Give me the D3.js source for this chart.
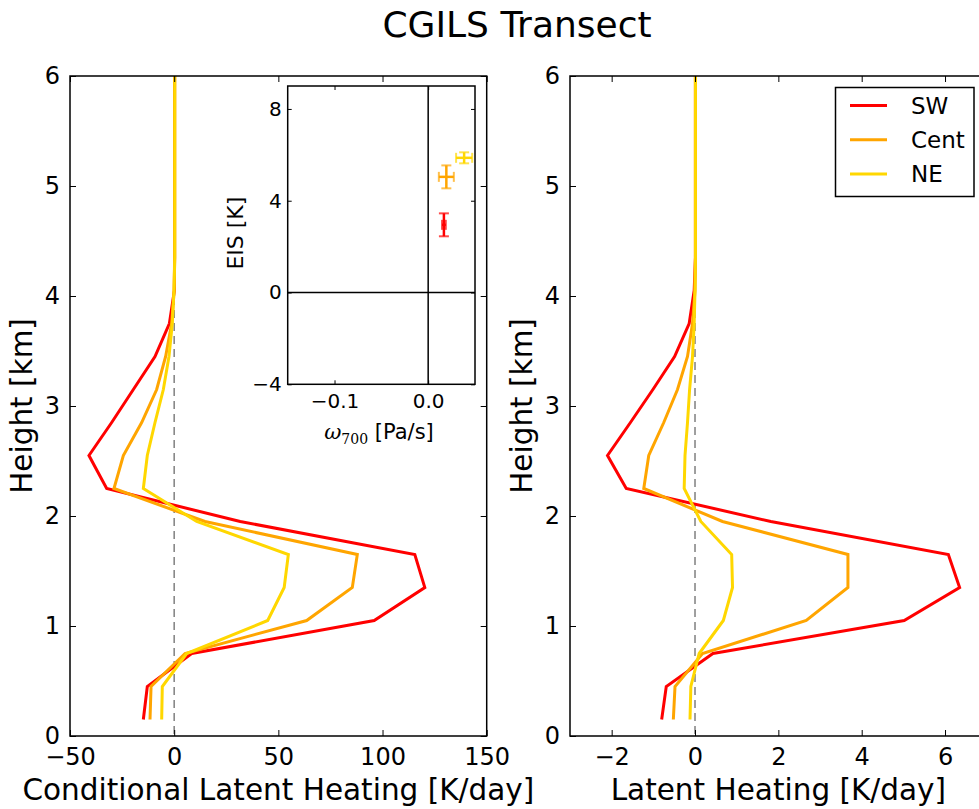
<!DOCTYPE html>
<html><head><meta charset="utf-8">
<script src="https://cdn.jsdelivr.net/npm/d3@7"></script>
<style>body{margin:0;background:#fff}svg{display:block}text{font-family:"DejaVu Sans",sans-serif}</style>
</head><body><svg id="c" width="979" height="809"></svg>
<script>
const heights = [0.15,0.45,0.75,1.05,1.35,1.65,1.95,2.25,2.55,2.85,3.15,3.45,3.75,4.05,4.35,4.65,4.95,5.25,5.55,5.85,6.15];
const seriesNames = ["SW","Cent","NE"];
const seriesColors = ["#ff0000","#ffa500","#ffd700"];
// Conditional latent heating [K/day]
const condSW   = [-14.8,-12.9,8.4,96,120.3,115.5,31.7,-32.4,-40.9,-30,-19.6,-9.2,-2.3,0.1,0.2,0.2,0.2,0.2,0.2,0.2,0.2];
const condCent = [-11.6,-11.1,5.2,63.6,85.5,87.9,14.8,-28.9,-24.4,-15.6,-8.4,-4.1,-1.2,0.0,0.2,0.2,0.2,0.2,0.2,0.2,0.2];
const condNE   = [-6.0,-5.7,6.0,44.9,52.8,54.8,10.8,-14.8,-12.9,-9.2,-5.2,-2.5,-0.9,-0.1,0.3,0.3,0.3,0.3,0.3,0.3,0.3];
// Latent heating [K/day]
const lhSW   = [-0.80,-0.69,0.43,5.02,6.35,6.08,1.82,-1.65,-2.10,-1.55,-1.01,-0.49,-0.14,-0.02,0.01,0.01,0.01,0.01,0.01,0.01,0.01];
const lhCent = [-0.52,-0.48,0.18,2.67,3.67,3.67,0.66,-1.23,-1.11,-0.75,-0.42,-0.18,-0.06,0.0,0.01,0.01,0.01,0.01,0.01,0.01,0.01];
const lhNE   = [-0.12,-0.10,0.10,0.68,0.90,0.88,0.14,-0.26,-0.24,-0.18,-0.13,-0.06,-0.02,0.0,0.01,0.01,0.01,0.01,0.01,0.01,0.01];
// Inset: omega700 [Pa/s], EIS [K] with errors
const omega = [0.0168,0.0194,0.0384];
const omegaErr = [0.002,0.008,0.0086];
const eis = [2.95,5.04,5.87];
const eisErr = [0.5,0.5,0.24];

const leftTicksX = [-50,0,50,100,150];
const rightTicksX = [-2,0,2,4,6];
const heightTicks = [0,1,2,3,4,5,6];
const insetTicksX = [-0.1,0.0];
const insetTicksY = [-4,0,4,8];

const svg = d3.select("#c");
const fmt = v => (v<0? "\u2212":"") + Math.abs(v);

svg.append("text").attr("x",517).attr("y",37).attr("text-anchor","middle")
  .style("font-size","36px").text("CGILS Transect");

function panel(x0, x1, xdom, xticks, series, xlabel, id, tickFmt){
  const y0=76, y1=736;
  const x = d3.scaleLinear().domain(xdom).range([x0,x1]);
  const y = d3.scaleLinear().domain([0,6]).range([y1,y0]);
  const g = svg.append("g");
  g.append("clipPath").attr("id",id).append("rect").attr("x",x0).attr("y",y0).attr("width",x1-x0).attr("height",y1-y0);
  g.append("line").attr("x1",x(0)).attr("x2",x(0)).attr("y1",y0).attr("y2",y1)
    .attr("stroke","#808080").attr("stroke-width",1.5).attr("stroke-dasharray","8,5");
  const line = d3.line().x(d=>x(d[0])).y(d=>y(d[1]));
  const lg = g.append("g").attr("clip-path",`url(#${id})`);
  series.forEach((s,i)=>{
    lg.append("path").datum(s.map((v,k)=>[v,heights[k]])).attr("d",line)
      .attr("fill","none").attr("stroke",seriesColors[i]).attr("stroke-width",3).attr("stroke-linejoin","miter");
  });
  g.append("rect").attr("x",x0).attr("y",y0).attr("width",x1-x0).attr("height",y1-y0)
    .attr("fill","none").attr("stroke","#000").attr("stroke-width",1.5);
  const axB = d3.axisBottom(x).tickValues(xticks).tickSize(-6).tickPadding(12).tickFormat(tickFmt);
  const axT = d3.axisTop(x).tickValues(xticks).tickSize(-6).tickFormat("");
  const axL = d3.axisLeft(y).tickValues(heightTicks).tickSize(-6).tickPadding(10).tickFormat(d3.format("d"));
  const axR = d3.axisRight(y).tickValues(heightTicks).tickSize(-6).tickFormat("");
  [[axB,`translate(0,${y1})`],[axT,`translate(0,${y0})`],[axL,`translate(${x0},0)`],[axR,`translate(${x1},0)`]].forEach(([a,t])=>{
    const ag = g.append("g").attr("transform",t).call(a);
    ag.select(".domain").remove();
    ag.selectAll("line").attr("stroke","#000").attr("stroke-width",1);
    ag.selectAll("text").style("font-size","24px").style("font-family","DejaVu Sans").attr("fill","#000");
  });
  g.append("text").attr("x",(x0+x1)/2).attr("y",800).attr("text-anchor","middle").style("font-size","29.5px").text(xlabel);
  g.append("text").attr("transform",`translate(${x0-38},${(y0+y1)/2}) rotate(-90)`).attr("text-anchor","middle")
    .style("font-size","29.5px").text("Height [km]");
  return {x,y,g};
}

panel(70,486.7,[-50,150],leftTicksX,[condSW,condCent,condNE],"Conditional Latent Heating [K/day]","clipL",fmt);
panel(570,986.7,[-3,7],rightTicksX,[lhSW,lhCent,lhNE],"Latent Heating [K/day]","clipR",fmt);

// legend
const lgd = svg.append("g");
lgd.append("rect").attr("x",835.5).attr("y",87.5).attr("width",138.5).attr("height",109).attr("fill","#fff").attr("stroke","#000").attr("stroke-width",1.5);
seriesNames.forEach((n,i)=>{
  const yy = 105.5 + i*34.3;
  lgd.append("line").attr("x1",850).attr("x2",887).attr("y1",yy).attr("y2",yy).attr("stroke",seriesColors[i]).attr("stroke-width",3);
  lgd.append("text").attr("x",911).attr("y",yy+8).style("font-size","23px").text(n);
});

// inset
const ix0=287.7, ix1=475, iy0=86, iy1=384.3;
const ix = d3.scaleLinear().domain([-0.15,0.05]).range([ix0,ix1]);
const iy = d3.scaleLinear().domain([-4,9]).range([iy1,iy0]);
const ig = svg.append("g");
ig.append("rect").attr("x",ix0).attr("y",iy0).attr("width",ix1-ix0).attr("height",iy1-iy0).attr("fill","#fff");
ig.append("line").attr("x1",ix(0)).attr("x2",ix(0)).attr("y1",iy0).attr("y2",iy1).attr("stroke","#000").attr("stroke-width",1.5);
ig.append("line").attr("x1",ix0).attr("x2",ix1).attr("y1",iy(0)).attr("y2",iy(0)).attr("stroke","#000").attr("stroke-width",1.5);
omega.forEach((o,i)=>{
  const c = seriesColors[i], cx=ix(o), cy=iy(eis[i]);
  const e = ig.append("g").attr("stroke",c).attr("stroke-width",2.5);
  e.append("line").attr("x1",ix(o-omegaErr[i])).attr("x2",ix(o+omegaErr[i])).attr("y1",cy).attr("y2",cy);
  e.append("line").attr("x1",cx).attr("x2",cx).attr("y1",iy(eis[i]-eisErr[i])).attr("y2",iy(eis[i]+eisErr[i]));
  const cap = 5;
  [eis[i]-eisErr[i],eis[i]+eisErr[i]].forEach(v=>e.append("line").attr("x1",cx-cap).attr("x2",cx+cap).attr("y1",iy(v)).attr("y2",iy(v)).attr("stroke-width",2).attr("stroke-opacity",0.7));
  [o-omegaErr[i],o+omegaErr[i]].forEach(v=>e.append("line").attr("x1",ix(v)).attr("x2",ix(v)).attr("y1",cy-cap).attr("y2",cy+cap).attr("stroke-width",2).attr("stroke-opacity",0.7));
});
ig.append("rect").attr("x",ix0).attr("y",iy0).attr("width",ix1-ix0).attr("height",iy1-iy0).attr("fill","none").attr("stroke","#000").attr("stroke-width",1.5);
const iaxes = [
  [d3.axisBottom(ix).tickValues(insetTicksX).tickSize(-4).tickPadding(10).tickFormat(v=>(v<0?"\u2212":"")+Math.abs(v).toFixed(1)),`translate(0,${iy1})`],
  [d3.axisTop(ix).tickValues(insetTicksX).tickSize(-4).tickFormat(""),`translate(0,${iy0})`],
  [d3.axisLeft(iy).tickValues(insetTicksY).tickSize(-4).tickPadding(6).tickFormat(fmt),`translate(${ix0},0)`],
  [d3.axisRight(iy).tickValues(insetTicksY).tickSize(-4).tickFormat(""),`translate(${ix1},0)`]
];
iaxes.forEach(([a,t])=>{
  const ag = ig.append("g").attr("transform",t).call(a);
  ag.select(".domain").remove();
  ag.selectAll("line").attr("stroke","#000").attr("stroke-width",1);
  ag.selectAll("text").style("font-size","20px").style("font-family","DejaVu Sans").attr("fill","#000");
});
const xl = ig.append("text").attr("x",379).attr("y",439).attr("text-anchor","middle").style("font-size","21px");
xl.append("tspan").style("font-family","DejaVu Serif").style("font-style","italic").text("\u03c9");
xl.append("tspan").style("font-family","DejaVu Serif").style("font-size","14px").attr("dy",5).text("700");
xl.append("tspan").attr("dy",-5).text(" [Pa/s]");
ig.append("text").attr("transform",`translate(243,${(iy0+iy1)/2-2}) rotate(-90)`).attr("text-anchor","middle").style("font-size","22px").text("EIS [K]");
</script></body></html>
